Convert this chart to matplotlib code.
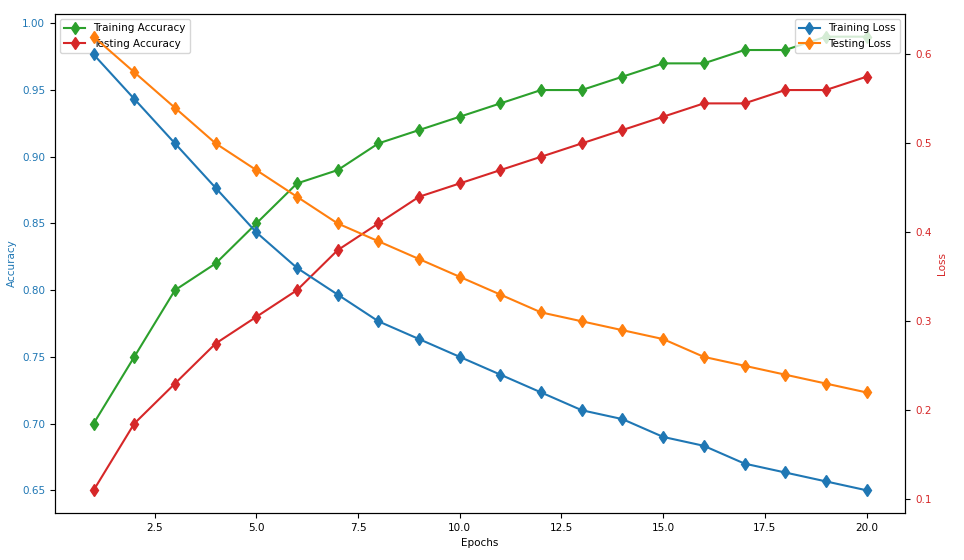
import numpy as np
import matplotlib.pyplot as plt

# 数据
epochs = np.arange(1, 21)
train_acc = [0.70, 0.75, 0.80, 0.82, 0.85, 0.88, 0.89, 0.91, 0.92, 0.93,
             0.94, 0.95, 0.95, 0.96, 0.97, 0.97, 0.98, 0.98, 0.99, 0.99]
test_acc = [0.65, 0.70, 0.73, 0.76, 0.78, 0.80, 0.83, 0.85, 0.87, 0.88,
            0.89, 0.90, 0.91, 0.92, 0.93, 0.94, 0.94, 0.95, 0.95, 0.96]
train_loss = [0.60, 0.55, 0.50, 0.45, 0.40, 0.36, 0.33, 0.30, 0.28, 0.26,
              0.24, 0.22, 0.20, 0.19, 0.17, 0.16, 0.14, 0.13, 0.12, 0.11]
test_loss = [0.62, 0.58, 0.54, 0.50, 0.47, 0.44, 0.41, 0.39, 0.37, 0.35,
             0.33, 0.31, 0.30, 0.29, 0.28, 0.26, 0.25, 0.24, 0.23, 0.22]

fs = 7.5
fig, ax1 = plt.subplots(figsize=(9.64, 5.6), dpi=100)
fig.subplots_adjust(left=0.057, right=0.939, bottom=0.084, top=0.975)

# 左轴：准确率
ax1.plot(epochs, train_acc, color='tab:green', marker='d', label='Training Accuracy')
ax1.plot(epochs, test_acc, color='tab:red', marker='d', label='Testing Accuracy')
ax1.set_xlabel('Epochs', fontsize=fs)
ax1.set_ylabel('Accuracy', color='tab:blue', fontsize=fs)
ax1.tick_params(axis='y', labelcolor='tab:blue', labelsize=fs)
ax1.tick_params(axis='x', labelsize=fs)
ax1.legend(loc='upper left', fontsize=fs)

# 右轴：损失
ax2 = ax1.twinx()
ax2.plot(epochs, train_loss, color='tab:blue', marker='d', label='Training Loss')
ax2.plot(epochs, test_loss, color='tab:orange', marker='d', label='Testing Loss')
ax2.set_ylabel('Loss', color='tab:red', fontsize=fs)
ax2.tick_params(axis='y', labelcolor='tab:red', labelsize=fs)
ax2.legend(loc='upper right', fontsize=fs)

plt.savefig('out.png')
